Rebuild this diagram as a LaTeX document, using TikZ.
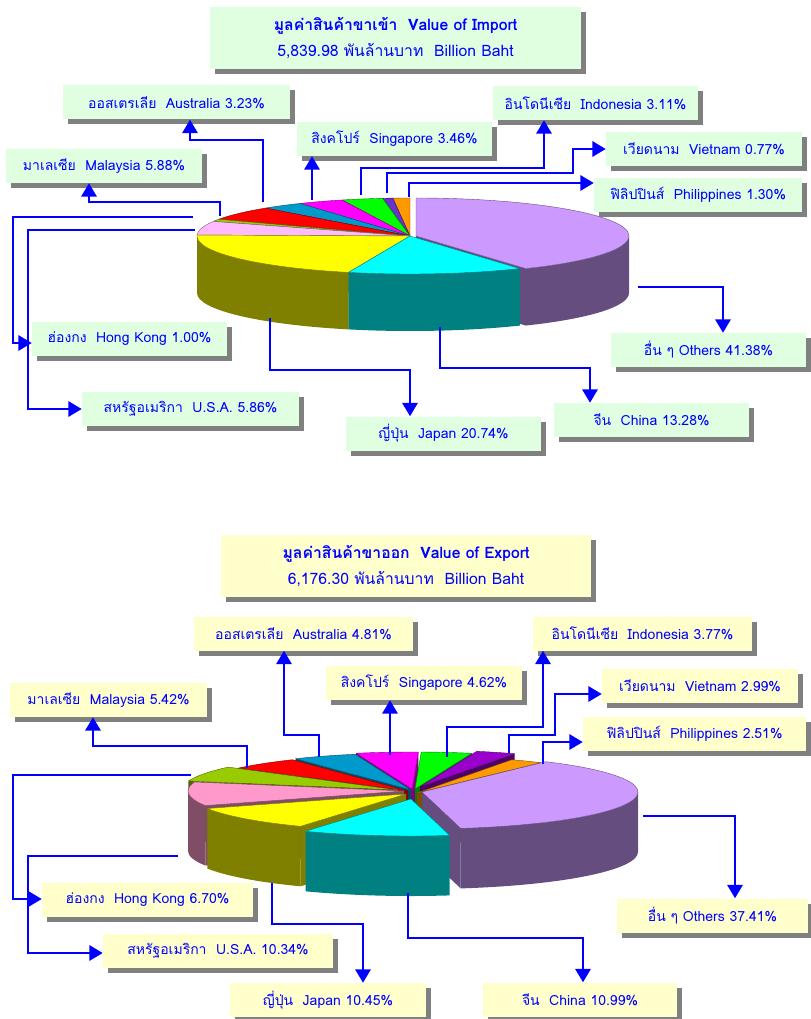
\documentclass[tikz,border=0pt]{standalone}
\usepackage{fontspec}
\setmainfont{Loma}[Script=Thai]
\usetikzlibrary{arrows.meta,shadows}

\definecolor{impbox}{HTML}{E0FFE0}
\definecolor{expbox}{HTML}{FFFFCC}
\definecolor{ottop}{HTML}{CC99FF}\definecolor{otside}{HTML}{664D80}
\definecolor{cntop}{HTML}{00FFFF}\definecolor{cnside}{HTML}{008080}
\definecolor{jptop}{HTML}{FFFF00}\definecolor{jpside}{HTML}{808000}
\definecolor{ustopI}{HTML}{FFBBFF}\definecolor{ussideI}{HTML}{805E80}
\definecolor{ustop}{HTML}{FF99CC}\definecolor{usside}{HTML}{804D66}
\definecolor{hktop}{HTML}{99CC00}\definecolor{hkside}{HTML}{4D6600}
\definecolor{mytop}{HTML}{FF0000}\definecolor{myside}{HTML}{800000}
\definecolor{autop}{HTML}{0099CC}\definecolor{auside}{HTML}{004D66}
\definecolor{sgtop}{HTML}{FF00FF}\definecolor{sgside}{HTML}{800080}
\definecolor{intop}{HTML}{00FF00}\definecolor{inside}{HTML}{008000}
\definecolor{vitopI}{HTML}{6633CC}\definecolor{vitop}{HTML}{9900CC}\definecolor{viside}{HTML}{4D0066}
\definecolor{phtop}{HTML}{FF9900}\definecolor{phside}{HTML}{804D00}

\tikzset{
  lbl/.style={fill=#1, inner sep=0pt, minimum height=25.5pt, text=blue,
    font=\fontsize{10.5}{12}\selectfont,
    drop shadow={shadow xshift=3.75pt, shadow yshift=-3.75pt, fill=gray, opacity=1}},
  ttl/.style={lbl=#1, minimum height=47pt, align=center, font=\fontsize{11.8}{14}\selectfont},
  boxw/.style={minimum width=#1*0.75pt},
  conn/.style={draw=blue, line width=1.5pt, -{Triangle[length=10pt,width=11.5pt]}},
}

% one slice: dx, dy, start, end, top colour, side colour
\newcommand\pieslice[6]{%
  \begin{scope}[shift={(\pcx+#1,\pcy+#2)}]
    \pgfmathsetmacro\ca{cos(#3)}\pgfmathsetmacro\cb{cos(#4)}
    \ifdim\ca pt<0pt
      \fill[#6] (0,0) -- ({\prx*cos(#3)},{\pry*sin(#3)}) -- ++(0,\pdep) -- (0,\pdep) -- cycle;
    \fi
    \ifdim\cb pt>0pt
      \fill[#6] (0,0) -- ({\prx*cos(#4)},{\pry*sin(#4)}) -- ++(0,\pdep) -- (0,\pdep) -- cycle;
    \fi
    \pgfmathsetmacro\wa{max(#3,0)}\pgfmathsetmacro\wb{min(#4,180)}
    \ifdim\wa pt<\wb pt
      \fill[#6] ({\prx*cos(\wa)},{\pry*sin(\wa)}) arc[start angle=\wa, end angle=\wb, x radius=\prx, y radius=\pry]
        -- ++(0,\pdep) arc[start angle=\wb, end angle=\wa, x radius=\prx, y radius=\pry] -- cycle;
    \fi
    \filldraw[fill=#5, draw=#6, line width=0.3pt, line join=round] (0,0) -- ({\prx*cos(#3)},{\pry*sin(#3)})
      arc[start angle=#3, end angle=#4, x radius=\prx, y radius=\pry] -- cycle;
  \end{scope}}

\begin{document}
\begin{tikzpicture}[x=0.75pt, y=-0.75pt]
\useasboundingbox (0,0) rectangle (810,1019);

% import pie
\def\pcx{410}\def\pcy{236}\def\prx{213}\def\pry{38}\def\pdep{57}
\pieslice{0}{0}{265.356}{270}{phtop}{phside}
\pieslice{0}{0}{262.584}{265.356}{vitopI}{viside}
\pieslice{0}{0}{251.388}{262.584}{intop}{inside}
\pieslice{0}{0}{238.932}{251.388}{sgtop}{sgside}
\pieslice{0}{0}{227.304}{238.932}{autop}{auside}
\pieslice{0}{0}{206.136}{227.304}{mytop}{myside}
\pieslice{0}{0}{202.536}{206.136}{hktop}{hkside}
\pieslice{6}{0}{-90}{58.968}{ottop}{otside}
\pieslice{0}{0}{181.44}{202.536}{ustopI}{ussideI}
\pieslice{0}{0}{106.776}{181.44}{jptop}{jpside}
\pieslice{0}{0}{58.968}{106.776}{cntop}{cnside}

% import boxes
\node[ttl=impbox, boxw=371] (ititle) at (395.5,38) {\textbf{มูลค่าสินค้าขาเข้า~~Value of Import}\\[6pt]5,839.98 พันล้านบาท~~Billion Baht};
\node[lbl=impbox, boxw=227] (iaus) at (176.5,102.5) {ออสเตรเลีย~~Australia 3.23\%};
\node[lbl=impbox, boxw=196] (imal) at (104,166) {มาเลเซีย~~Malaysia 5.88\%};
\node[lbl=impbox, boxw=195] (isin) at (394.5,139) {สิงคโปร์~~Singapore 3.46\%};
\node[lbl=impbox, boxw=205] (iind) at (595.5,103) {อินโดนีเซีย~~Indonesia 3.11\%};
\node[lbl=impbox, boxw=196] (ivie) at (704,149) {เวียดนาม~~Vietnam 0.77\%};
\node[lbl=impbox, boxw=208] (iphi) at (698,195) {ฟิลิปปินส์~~Philippines 1.30\%};
\node[lbl=impbox, boxw=195] (ihk) at (129.5,339) {ฮ่องกง~~Hong Kong 1.00\%};
\node[lbl=impbox, boxw=217] (iusa) at (190.5,409) {สหรัฐอเมริกา~~U.S.A. 5.86\%};
\node[lbl=impbox, boxw=195] (ijap) at (443.5,433.5) {ญี่ปุ่น~~Japan 20.74\%};
\node[lbl=impbox, boxw=195] (ichi) at (651.5,420) {จีน~~China 13.28\%};
\node[lbl=impbox, boxw=195] (ioth) at (708.5,350) {อื่น ๆ~Others 41.38\%};

% import connectors
\coordinate (iausp) at (263,202);
\coordinate (imalp) at (220,216);
\coordinate (isinp) at (312,200);
\coordinate (iindp) at (361,195);
\coordinate (iviep) at (387,193);
\coordinate (iphip) at (409,197);
\coordinate (ihkp) at (193,217);
\coordinate (iusap) at (195,230);
\coordinate (ijapp) at (270,318);
\coordinate (ichip) at (440,327);
\coordinate (iothp) at (638,287);
\draw[conn] (iausp) |- (190,140) -- (190,140 |- iaus.south);
\draw[conn] (imalp) |- (89,202) -- (89,202 |- imal.south);
\draw[conn] (isinp) -- (isinp |- isin.south);
\draw[conn] (iindp) |- (544,168) -- (544,168 |- iind.south);
\draw[conn] (iviep) |- (573,173) |- (ivie.west);
\draw[conn] (iphip) |- (iphi.west |- 0,183);
\draw[conn] (ihkp) -| (13,343) -- (ihk.west |- 0,343);
\draw[conn] (iusap) -| (28,409) -- (iusa.west |- 0,409);
\draw[conn] (ijapp) |- (410,370) -- (410,370 |- ijap.north);
\draw[conn] (ichip) |- (590,368) -- (590,368 |- ichi.north);
\draw[conn] (iothp) -| (723,0 |- ioth.north);

% export pie
\def\pcx{412}\def\pcy{791}\def\prx{216}\def\pry{37}\def\pdep{60}
\pieslice{0}{-2}{255.032}{271.664}{sgtop}{sgside}
\pieslice{3}{-2}{271.664}{285.236}{intop}{inside}
\pieslice{8}{-4}{285.236}{296}{vitop}{viside}
\pieslice{-1}{-1}{237.716}{255.032}{autop}{auside}
\pieslice{5}{2}{296}{305}{phtop}{phside}
\pieslice{-4}{0}{218.204}{237.716}{mytop}{myside}
\pieslice{-14}{-1}{194.084}{218.204}{hktop}{hkside}
\pieslice{-8}{0}{156.86}{194.084}{ustop}{usside}
\pieslice{10}{1}{-55}{79.676}{ottop}{otside}
\pieslice{-6}{3}{119.24}{156.86}{jptop}{jpside}
\pieslice{-1}{8}{79.676}{119.24}{cntop}{cnside}

% export boxes
\node[ttl=expbox, boxw=370] (etitle) at (406,566) {\textbf{มูลค่าสินค้าขาออก~~Value of Export}\\[6pt]6,176.30 พันล้านบาท~~Billion Baht};
\node[lbl=expbox, boxw=219] (eaus) at (303.5,633.5) {ออสเตรเลีย~~Australia 4.81\%};
\node[lbl=expbox, boxw=219] (eind) at (642.5,633.5) {อินโดนีเซีย~~Indonesia 3.77\%};
\node[lbl=expbox, boxw=196] (esin) at (424,683) {สิงคโปร์~~Singapore 4.62\%};
\node[lbl=expbox, boxw=197] (emal) at (108.5,700) {มาเลเซีย~~Malaysia 5.42\%};
\node[lbl=expbox, boxw=196] (evie) at (700,685.5) {เวียดนาม~~Vietnam 2.99\%};
\node[lbl=expbox, boxw=223] (ephi) at (694.5,733.5) {ฟิลิปปินส์~~Philippines 2.51\%};
\node[lbl=expbox, boxw=211] (ehk) at (147.5,900) {ฮ่องกง~~Hong Kong 6.70\%};
\node[lbl=expbox, boxw=230] (eusa) at (218,950.5) {สหรัฐอเมริกา~~U.S.A. 10.34\%};
\node[lbl=expbox, boxw=196] (ejap) at (328,1000) {ญี่ปุ่น~~Japan 10.45\%};
\node[lbl=expbox, boxw=194] (echi) at (580,999.5) {จีน~~China 10.99\%};
\node[lbl=expbox, boxw=191] (eoth) at (712.5,915.5) {อื่น ๆ~Others 37.41\%};

% export connectors
\coordinate (eausp) at (319,757);
\coordinate (emalp) at (247,768);
\coordinate (esinp) at (390,755);
\coordinate (eindp) at (447,757);
\coordinate (eviep) at (509,753);
\coordinate (ephip) at (543,764);
\coordinate (ehkp) at (191,775);
\coordinate (eusap) at (178,856);
\coordinate (ejapp) at (272,883);
\coordinate (echip) at (408,893);
\coordinate (eothp) at (643,816);
\draw[conn] (eausp) |- (284,735) -- (284,735 |- eaus.south);
\draw[conn] (emalp) |- (93,746) -- (93,746 |- emal.south);
\draw[conn] (esinp) -- (esinp |- esin.south);
\draw[conn] (eindp) |- (543,727) -- (543,727 |- eind.south);
\draw[conn] (eviep) |- (555,735) |- (evie.west |- 0,694);
\draw[conn] (ephip) |- (ephi.west |- 0,742);
\draw[conn] (ehkp) -| (13,899) -- (ehk.west |- 0,899);
\draw[conn] (eusap) -| (28,953) -- (eusa.west |- 0,953);
\draw[conn] (ejapp) |- (363,924) -- (363,924 |- ejap.north);
\draw[conn] (echip) |- (583,938) -- (583,938 |- echi.north);
\draw[conn] (eothp) -| (735,0 |- eoth.north);
\end{tikzpicture}
\end{document}
